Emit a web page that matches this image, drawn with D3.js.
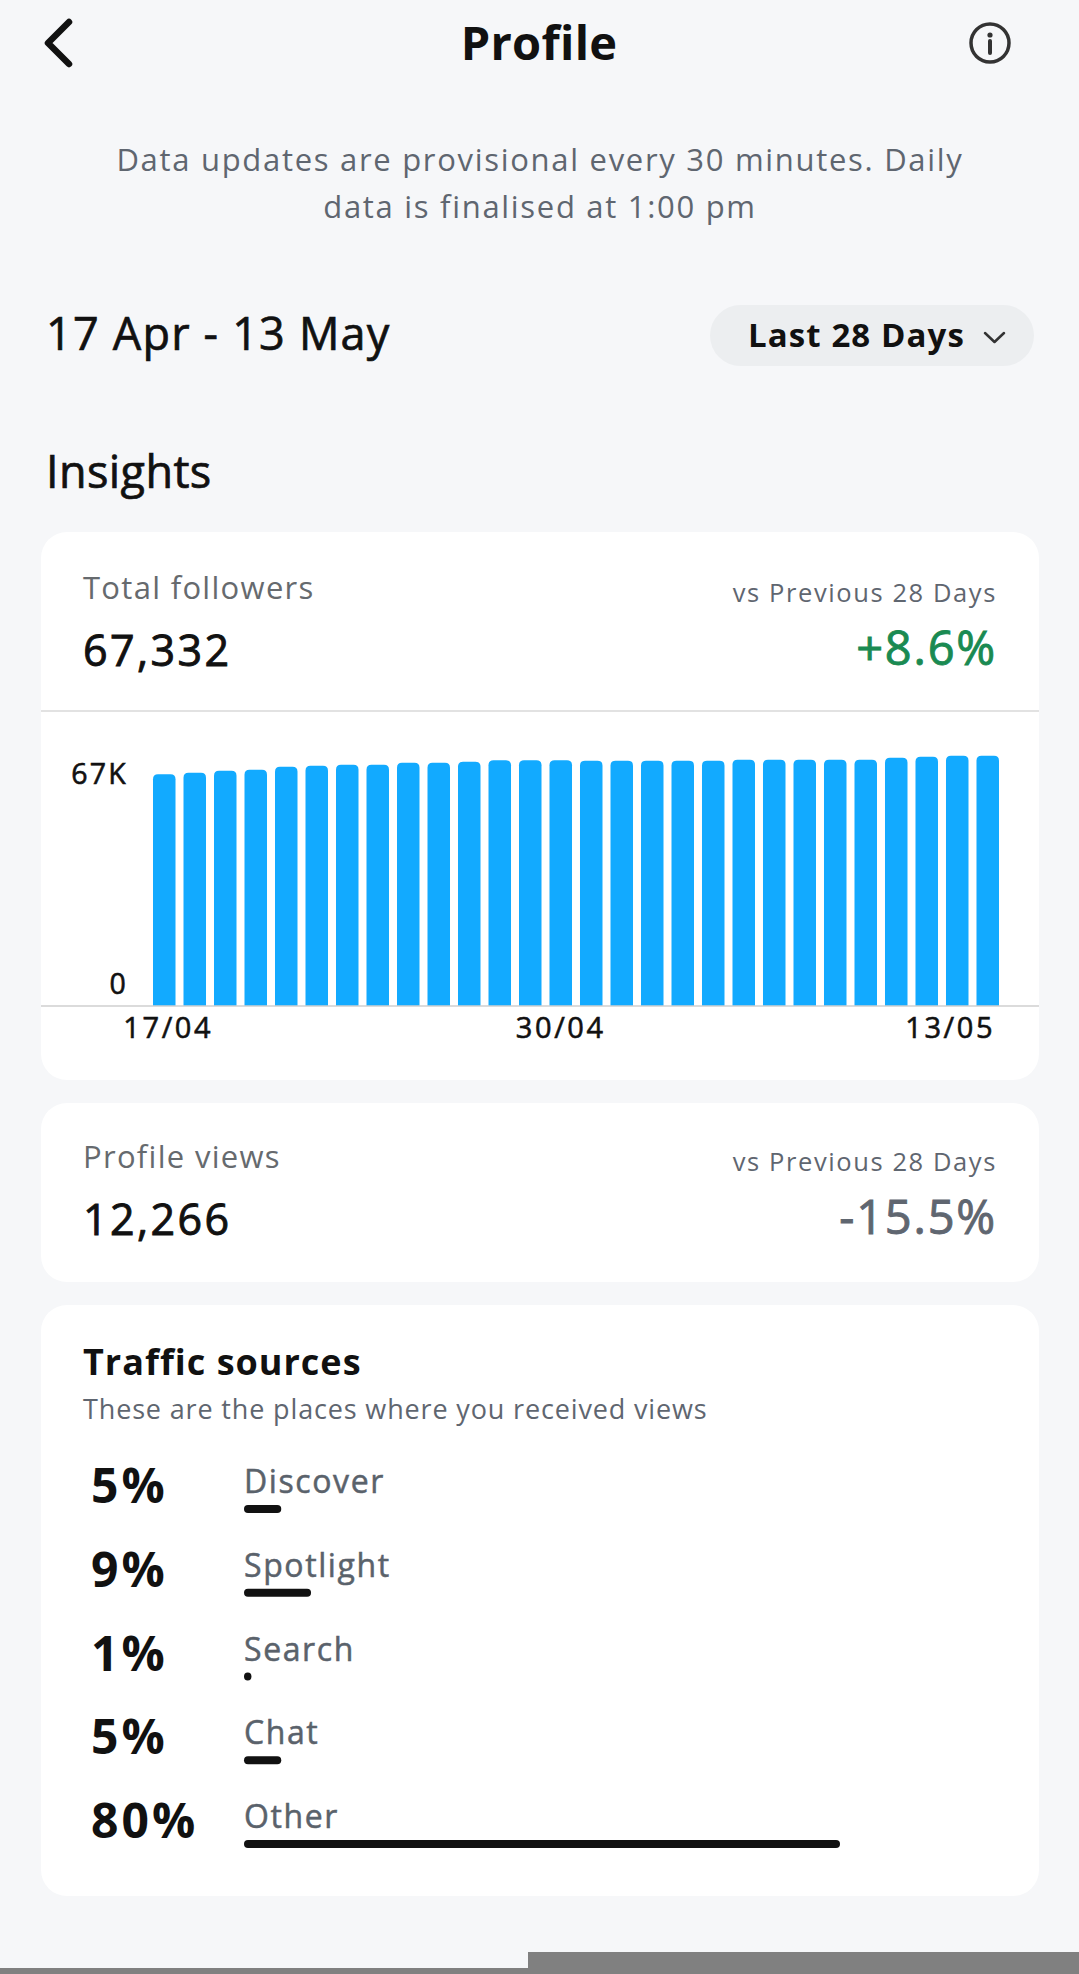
<!DOCTYPE html>
<html>
<head>
<meta charset="utf-8">
<script src="https://cdn.jsdelivr.net/npm/d3@7"></script>
<style>
  html, body { margin: 0; padding: 0; background: #f6f7f9; }
  svg { display: block; font-family: "Open Sans", "Noto Sans", sans-serif; }
</style>
</head>
<body>
<div id="page"></div>
<script>
const W = 1079;
const H = 1974;

// follower totals per day
const days = ["17/04","18/04","19/04","20/04","21/04","22/04","23/04","24/04","25/04","26/04",
  "27/04","28/04","29/04","30/04","01/05","02/05","03/05","04/05","05/05","06/05",
  "07/05","08/05","09/05","10/05","11/05","12/05","13/05","14/05"];
const followers = [62330, 62760, 63300, 63570, 64370, 64640, 64910, 64910, 65450, 65450,
  65720, 66090, 66090, 66090, 65990, 65990, 65990, 65990, 65990, 66260,
  66260, 66260, 66260, 66260, 66800, 67060, 67332, 67332];
const xTicks = ["17/04", "30/04", "13/05"];
const yTicks = [0, 67000];

// traffic sources
const sources = ["Discover", "Spotlight", "Search", "Chat", "Other"];
const shares = [5, 9, 1, 5, 80];

const svg = d3.select("#page").append("svg")
  .attr("width", W)
  .attr("height", H);

svg.append("rect").attr("width", W).attr("height", H).attr("fill", "#f6f7f9");

// small helper, medium weight is faked with a thin stroke
function txt(x, y, s, size, fill, o = {}) {
  const t = svg.append("text").attr("x", x).attr("y", y)
    .attr("font-size", size).attr("fill", fill)
    .attr("font-weight", o.bold ? 700 : 400)
    .attr("letter-spacing", o.ls || 0)
    .attr("text-anchor", o.anchor || "start")
    .text(s);
  if (o.med) t.attr("stroke", fill).attr("stroke-width", o.med);
  return t;
}

// header
svg.append("path")
  .attr("d", "M69,22 L48,43 L69,64")
  .attr("fill", "none").attr("stroke", "#111")
  .attr("stroke-width", 6.5).attr("stroke-linecap", "round").attr("stroke-linejoin", "round");

txt(539, 60, "Profile", 47, "#111", {bold: true, anchor: "middle", ls: 0.3});

const info = svg.append("g").attr("transform", "translate(990,43)");
info.append("circle").attr("r", 19).attr("fill", "none").attr("stroke", "#333").attr("stroke-width", 3.5);
info.append("circle").attr("cy", -8).attr("r", 2.6).attr("fill", "#333");
info.append("line").attr("y1", -2).attr("y2", 10).attr("stroke", "#333")
  .attr("stroke-width", 4).attr("stroke-linecap", "round");

txt(540, 171, "Data updates are provisional every 30 minutes. Daily", 31, "#5f6670", {anchor: "middle", ls: 1.7});
txt(540, 218, "data is finalised at 1:00 pm", 31, "#5f6670", {anchor: "middle", ls: 1.7});

txt(46, 350, "17 Apr - 13 May", 45, "#111", {ls: 1.2, med: 0.7});

svg.append("rect").attr("x", 710).attr("y", 305).attr("width", 324).attr("height", 61)
  .attr("rx", 30.5).attr("fill", "#eceef0");
txt(748, 347, "Last 28 Days", 33, "#111", {bold: true, ls: 1.1});
svg.append("path").attr("d", "M985,333 L994.5,342 L1004,333")
  .attr("fill", "none").attr("stroke", "#333").attr("stroke-width", 2.5)
  .attr("stroke-linecap", "round").attr("stroke-linejoin", "round");

txt(46, 488, "Insights", 45, "#111", {ls: 0.4, med: 0.7});

// cards
function card(y, h) {
  svg.append("rect").attr("x", 41).attr("y", y).attr("width", 998).attr("height", h)
    .attr("rx", 26).attr("fill", "#fff");
}
card(532, 548);
card(1103, 179);
card(1305, 591);

function statHead(y, title, value, change, color) {
  txt(83, y, title, 31, "#666a6e", {ls: 1.3});
  txt(997, y + 3, "vs Previous 28 Days", 25.5, "#5f6670", {anchor: "end", ls: 1.6});
  txt(83, y + 67, value, 43, "#111", {ls: 2.4, med: 0.9});
  txt(997, y + 66, change, 47, color, {anchor: "end", ls: 1.8, med: 0.9});
}
statHead(599, "Total followers", "67,332", "+8.6%", "#1a8a52");
statHead(1168, "Profile views", "12,266", "-15.5%", "#5f6670");

svg.append("line").attr("x1", 41).attr("x2", 1039).attr("y1", 711).attr("y2", 711)
  .attr("stroke", "#d8d8d8").attr("stroke-width", 1.5);

// followers bar chart
const x = d3.scaleBand().domain(days).range([153, 999]).paddingInner(0.262).paddingOuter(0);
const y = d3.scaleLinear().domain([0, d3.max(followers)]).range([1006, 755.7]);

const r = 5;
svg.append("g").selectAll("path")
  .data(followers)
  .join("path")
  .attr("fill", "#12aaff")
  .attr("d", (d, i) => {
    const x0 = x(days[i]), x1 = x0 + x.bandwidth(), y0 = y(0), y1 = y(d);
    return `M${x0},${y0} L${x0},${y1 + r} Q${x0},${y1} ${x0 + r},${y1} L${x1 - r},${y1} Q${x1},${y1} ${x1},${y1 + r} L${x1},${y0} Z`;
  });

svg.append("line").attr("x1", 41).attr("x2", 1039).attr("y1", y(0)).attr("y2", y(0))
  .attr("stroke", "#cfcfcf").attr("stroke-width", 1.5);

const yAxis = svg.append("g").attr("transform", "translate(128,0)")
  .call(d3.axisLeft(y).tickValues(yTicks).tickSize(0).tickPadding(0)
    .tickFormat(v => v === 0 ? "0" : Math.round(v / 1000) + "K"));
yAxis.select(".domain").remove();
yAxis.selectAll("text")
  .attr("font-family", "'Open Sans', 'Noto Sans', sans-serif")
  .attr("font-size", 28.5).attr("fill", "#111")
  .attr("stroke", "#111").attr("stroke-width", 0.6)
  .attr("letter-spacing", 2.2)
  .attr("dy", v => v === 0 ? "-0.45em" : "0.93em");

const xAxis = svg.append("g").attr("transform", `translate(0,${y(0)})`)
  .call(d3.axisBottom(x).tickValues(xTicks).tickSize(0).tickPadding(0));
xAxis.select(".domain").remove();
xAxis.selectAll("text")
  .attr("font-family", "'Open Sans', 'Noto Sans', sans-serif")
  .attr("font-size", 29).attr("fill", "#111")
  .attr("stroke", "#111").attr("stroke-width", 0.6)
  .attr("letter-spacing", 2.6)
  .attr("dy", "1.12em")
  .attr("dx", d => d === "13/05" ? -7 : d === "17/04" ? 4 : 0);

// traffic sources
txt(83, 1375, "Traffic sources", 36, "#111", {bold: true, ls: 1});
txt(83, 1419, "These are the places where you received views", 27, "#5f6670", {ls: 0.85});

const row = d3.scalePoint().domain(sources).range([1503, 1838]);
const len = d3.scaleLinear().domain([0, 100]).range([0, 745]);

const rows = svg.append("g").selectAll("g")
  .data(sources)
  .join("g")
  .attr("transform", d => `translate(0,${row(d)})`);

rows.append("text").attr("x", 91)
  .attr("font-size", 48).attr("font-weight", 700).attr("fill", "#111")
  .attr("letter-spacing", 3)
  .text((d, i) => shares[i] + "%");
rows.append("text").attr("x", 244).attr("y", -10)
  .attr("font-size", 32).attr("fill", "#5a626b")
  .attr("stroke", "#5a626b").attr("stroke-width", 0.5)
  .attr("letter-spacing", 1.6)
  .text(d => d);
rows.append("rect").attr("x", 244).attr("y", 2)
  .attr("height", 8).attr("rx", 4)
  .attr("width", (d, i) => Math.max(len(shares[i]), 5))
  .attr("fill", "#111");

// bottom strip
svg.append("rect").attr("x", 0).attr("y", 1968).attr("width", 528).attr("height", 6).attr("fill", "#808080");
svg.append("rect").attr("x", 528).attr("y", 1952).attr("width", 551).attr("height", 22).attr("fill", "#808080");
</script>
</body>
</html>
